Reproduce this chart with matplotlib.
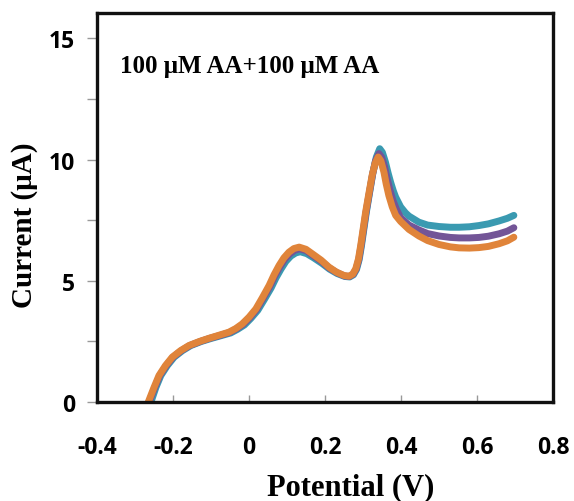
import matplotlib
matplotlib.use("Agg")
import matplotlib.pyplot as plt
from matplotlib.ticker import FixedLocator

# Differential pulse voltammograms (potential in V, current in µA)
potential_teal = [-0.258, -0.245, -0.232, -0.215, -0.197, -0.175, -0.153, -0.125, -0.100, -0.075,
                  -0.048, -0.030, -0.012, 0.005, 0.023, 0.040, 0.058, 0.071, 0.084, 0.097,
                  0.110, 0.123, 0.135, 0.152, 0.170, 0.192, 0.212, 0.232, 0.252, 0.265,
                  0.275, 0.283, 0.290, 0.296, 0.302, 0.309, 0.318, 0.326, 0.335, 0.344,
                  0.351, 0.359, 0.366, 0.373, 0.380, 0.386, 0.399, 0.412, 0.421, 0.447,
                  0.470, 0.500, 0.530, 0.553, 0.580, 0.605, 0.630, 0.658, 0.680, 0.697]
current_teal = [0.00, 0.60, 1.09, 1.50, 1.85, 2.12, 2.33, 2.50, 2.62, 2.73,
                2.85, 3.00, 3.18, 3.45, 3.78, 4.22, 4.70, 5.12, 5.48, 5.80,
                6.02, 6.15, 6.20, 6.12, 5.95, 5.72, 5.48, 5.30, 5.18, 5.16,
                5.25, 5.47, 5.88, 6.45, 7.10, 7.85, 8.70, 9.45, 10.10, 10.45,
                10.30, 9.90, 9.45, 9.05, 8.70, 8.45, 8.05, 7.80, 7.67, 7.42,
                7.30, 7.24, 7.21, 7.21, 7.23, 7.28, 7.35, 7.47, 7.58, 7.70]

potential_purple = [-0.263, -0.248, -0.235, -0.218, -0.200, -0.178, -0.156, -0.128, -0.103, -0.078,
                    -0.051, -0.033, -0.016, 0.002, 0.020, 0.037, 0.055, 0.068, 0.081, 0.094,
                    0.107, 0.120, 0.133, 0.151, 0.168, 0.191, 0.211, 0.231, 0.251, 0.264,
                    0.274, 0.282, 0.289, 0.295, 0.301, 0.308, 0.317, 0.325, 0.333, 0.342,
                    0.349, 0.357, 0.363, 0.370, 0.379, 0.388, 0.399, 0.421, 0.447,
                    0.470, 0.500, 0.530, 0.553, 0.580, 0.605, 0.630, 0.658, 0.680, 0.697]
current_purple = [0.00, 0.60, 1.09, 1.50, 1.85, 2.12, 2.33, 2.50, 2.63, 2.74,
                  2.87, 3.02, 3.20, 3.48, 3.82, 4.27, 4.77, 5.20, 5.57, 5.89,
                  6.11, 6.26, 6.32, 6.24, 6.05, 5.80, 5.53, 5.34, 5.20, 5.18,
                  5.27, 5.49, 5.89, 6.46, 7.10, 7.84, 8.66, 9.38, 9.95, 10.25,
                  10.10, 9.70, 9.25, 8.80, 8.30, 7.95, 7.60, 7.30, 7.10,
                  6.95, 6.85, 6.79, 6.77, 6.77, 6.79, 6.84, 6.94, 7.05, 7.19]

potential_orange = [-0.265, -0.250, -0.237, -0.220, -0.202, -0.180, -0.158, -0.130, -0.105, -0.080,
                    -0.053, -0.035, -0.018, 0.000, 0.018, 0.035, 0.053, 0.066, 0.079, 0.092,
                    0.105, 0.118, 0.132, 0.150, 0.167, 0.190, 0.210, 0.230, 0.250, 0.263,
                    0.273, 0.281, 0.288, 0.294, 0.300, 0.307, 0.316, 0.324, 0.332, 0.340,
                    0.347, 0.355, 0.361, 0.368, 0.377, 0.386, 0.399, 0.421, 0.447,
                    0.470, 0.500, 0.530, 0.553, 0.580, 0.605, 0.630, 0.658, 0.680, 0.697]
current_orange = [0.00, 0.60, 1.09, 1.50, 1.85, 2.12, 2.33, 2.50, 2.63, 2.75,
                  2.88, 3.03, 3.22, 3.50, 3.84, 4.30, 4.81, 5.25, 5.63, 5.95,
                  6.18, 6.33, 6.39, 6.30, 6.11, 5.85, 5.57, 5.36, 5.22, 5.19,
                  5.28, 5.50, 5.90, 6.46, 7.10, 7.84, 8.65, 9.35, 9.85, 10.11,
                  9.95, 9.49, 9.00, 8.52, 8.05, 7.70, 7.45, 7.12, 6.85,
                  6.66, 6.50, 6.40, 6.36, 6.35, 6.37, 6.42, 6.53, 6.65, 6.80]

x_ticks = [-0.4, -0.2, 0, 0.2, 0.4, 0.6, 0.8]
x_tick_labels = ["-0.4", "-0.2", "0", "0.2", "0.4", "0.6", "0.8"]
y_ticks = [0, 5, 10, 15]
y_tick_labels = ["0", "5", "10", "15"]

fig = plt.figure(figsize=(5.74, 5.02), dpi=100)
ax = fig.add_axes([97 / 574, 99 / 502, 456 / 574, 389 / 502])

lw = 5.0
ax.plot(potential_teal, current_teal, color="#3A9AB1", lw=lw,
        solid_capstyle="round", solid_joinstyle="round")
ax.plot(potential_purple, current_purple, color="#735597", lw=lw,
        solid_capstyle="round", solid_joinstyle="round")
ax.plot(potential_orange, current_orange, color="#E0843A", lw=lw,
        solid_capstyle="round", solid_joinstyle="round")

ax.set_xlim(-0.4, 0.8)
ax.set_ylim(0, 16.05)

tick_font = dict(family=["Open Sans", "DejaVu Sans"], weight="bold", size=16.5)
ax.set_xticks(x_ticks)
ax.set_xticklabels(x_tick_labels, **tick_font)
ax.set_yticks(y_ticks)
ax.set_yticklabels(y_tick_labels, **tick_font)
ax.yaxis.set_minor_locator(FixedLocator([2.5, 7.5, 12.5]))

ax.tick_params(axis="x", direction="in", length=5, width=1, color="#999999", pad=24)
ax.tick_params(axis="y", which="both", direction="out", length=7, width=1, color="#999999", pad=9)

for side in ["left", "right", "top", "bottom"]:
    ax.spines[side].set_linewidth(2.4)
    ax.spines[side].set_color("#111111")

serif = ["Liberation Serif", "DejaVu Serif"]
fig.text(24 / 574, 1 - 225 / 502, "Current (μA)", rotation=90, ha="center", va="center",
         family=serif, weight="bold", size=21)
fig.text(351 / 574, 1 - 488 / 502, "Potential (V)", ha="center", va="center",
         family=serif, weight="bold", size=22)

fig.text(120 / 574, 1 - 66 / 502, "100 μM AA+100 μM AA", ha="left", va="center",
         family=serif, weight="bold", size=18)

fig.savefig("out.png", dpi=100)
